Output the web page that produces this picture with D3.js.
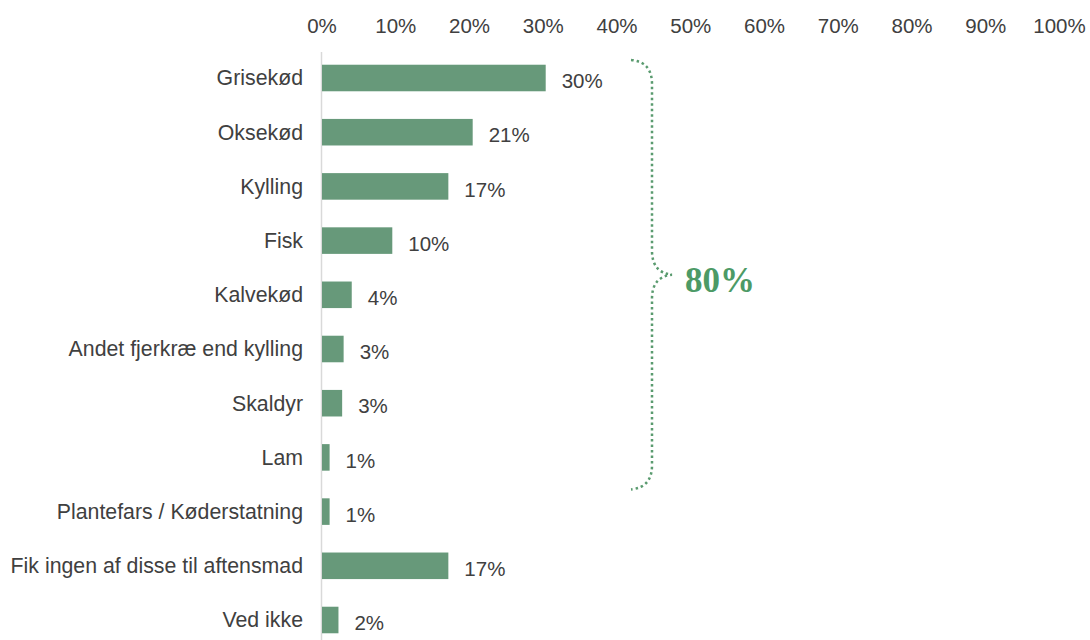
<!DOCTYPE html>
<html>
<head>
<meta charset="utf-8">
<script src="https://cdn.jsdelivr.net/npm/d3@7"></script>
<style>
  html, body { margin: 0; padding: 0; background: #ffffff; }
  svg { display: block; }
</style>
</head>
<body>
<svg id="chart" width="1090" height="640"></svg>
<script>
// Aftensmad: hvilken type protein var hovedingrediensen
const categories = [
  "Grisekød", "Oksekød", "Kylling", "Fisk", "Kalvekød",
  "Andet fjerkræ end kylling", "Skaldyr", "Lam",
  "Plantefars / Køderstatning", "Fik ingen af disse til aftensmad", "Ved ikke"
];
const values = [30.4, 20.5, 17.2, 9.6, 4.1, 3.0, 2.8, 1.1, 1.1, 17.2, 2.3];
const tickValues = [0, 10, 20, 30, 40, 50, 60, 70, 80, 90, 100];
const braceFirst = "Grisekød";
const braceLast = "Lam";
const braceLabel = "80%";

const barColor = "#67997a";
const textColor = "#404040";
const braceColor = "#5a9b6f";
const fontSans = "'Liberation Sans', Arial, sans-serif";
const fontSize = 20.5;
const categoryFontSize = 21.3;

const svg = d3.select("#chart");

const x = d3.scaleLinear().domain([0, 100]).range([321.5, 1059]);
const y = d3.scaleBand()
  .domain(categories)
  .range([50.9, 647.1])
  .paddingInner(0.51)
  .paddingOuter(0.255);

// Top axis with percentage labels, no ticks or domain line
const xAxis = d3.axisTop(x)
  .tickValues(tickValues)
  .tickFormat(d => d + "%")
  .tickSize(0)
  .tickPadding(0);

const gx = svg.append("g")
  .attr("transform", "translate(0,33)")
  .call(xAxis);
gx.select(".domain").remove();
gx.selectAll("text")
  .attr("font-family", fontSans)
  .attr("font-size", fontSize)
  .attr("fill", textColor);

// Vertical baseline at 0%
svg.append("line")
  .attr("x1", x(0)).attr("x2", x(0))
  .attr("y1", 52).attr("y2", 640)
  .attr("stroke", "#d9d9d9")
  .attr("stroke-width", 1.5);

// Bars
svg.append("g").selectAll("rect")
  .data(categories)
  .join("rect")
  .attr("x", x(0) + 0.5)
  .attr("y", d => y(d))
  .attr("width", (d, i) => x(values[i]) - x(0) - 0.5)
  .attr("height", y.bandwidth())
  .attr("fill", barColor);

// Category labels
svg.append("g").selectAll("text")
  .data(categories)
  .join("text")
  .attr("x", 303)
  .attr("y", d => y(d) + y.bandwidth() / 2)
  .attr("dy", "0.35em")
  .attr("text-anchor", "end")
  .attr("font-family", fontSans)
  .attr("font-size", categoryFontSize)
  .attr("fill", textColor)
  .text(d => d);

// Value labels
svg.append("g").selectAll("text")
  .data(categories)
  .join("text")
  .attr("x", (d, i) => x(values[i]) + 16)
  .attr("y", d => y(d) + y.bandwidth() / 2 + 3)
  .attr("dy", "0.35em")
  .attr("font-family", fontSans)
  .attr("font-size", fontSize)
  .attr("fill", textColor)
  .text((d, i) => Math.round(values[i]) + "%");

// Dotted curly brace grouping the meat and fish rows
const braceTop = y(braceFirst) + y.bandwidth() / 2 - 18;
const braceBottom = y(braceLast) + y.bandwidth() / 2 + 32;
const braceMid = (braceTop + braceBottom) / 2;
const xl = 631, xs = 652, xt = 672;
const p = d3.path();
p.moveTo(xl, braceTop);
p.quadraticCurveTo(xs, braceTop + 2, xs, braceTop + 24);
p.lineTo(xs, braceMid - 24);
p.quadraticCurveTo(xs, braceMid - 2, xt, braceMid);
p.quadraticCurveTo(xs, braceMid + 2, xs, braceMid + 24);
p.lineTo(xs, braceBottom - 24);
p.quadraticCurveTo(xs, braceBottom - 2, xl, braceBottom);

svg.append("path")
  .attr("d", p.toString())
  .attr("fill", "none")
  .attr("stroke", braceColor)
  .attr("stroke-width", 2.5)
  .attr("stroke-dasharray", "2.5 3");

svg.append("text")
  .attr("x", 685)
  .attr("y", braceMid + 17)
  .attr("font-family", "'Liberation Serif', 'Times New Roman', serif")
  .attr("font-weight", "bold")
  .attr("font-size", 35)
  .attr("fill", "#4c9a66")
  .text(braceLabel);
</script>
</body>
</html>
